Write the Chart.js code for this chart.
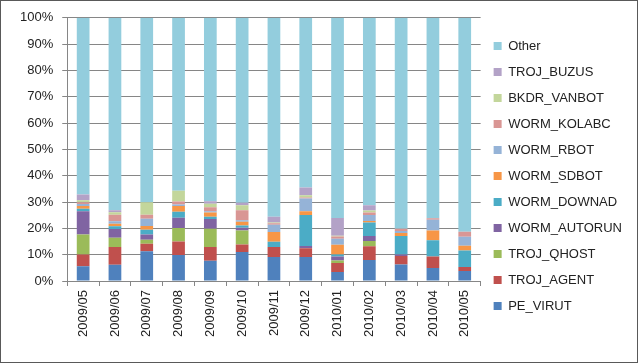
<!DOCTYPE html>
<html>
<head>
<meta charset="utf-8">
<script src="https://cdn.jsdelivr.net/npm/chart.js@4"></script>
<style>
  html, body { margin: 0; padding: 0; background: #fff; }
  #wrap { width: 638px; height: 363px; box-sizing: border-box; border: 1px solid #595959; position: relative; }
  canvas { display: block; }
</style>
</head>
<body>
<div id="wrap"><canvas id="chart" width="636" height="361"></canvas></div>
<script>
const months = ["2009/05", "2009/06", "2009/07", "2009/08", "2009/09", "2009/10", "2009/11",
                "2009/12", "2010/01", "2010/02", "2010/03", "2010/04", "2010/05"]

// share of detections per month, in percent
const peVirut     = [5.6, 6.2, 11.3, 9.9, 7.7, 11.0, 9.1, 9.1, 3.4, 8.0, 6.3, 4.9, 3.8]
const trojAgent   = [4.5, 6.7, 2.9, 5.1, 5.2, 2.9, 3.8, 3.3, 3.4, 5.2, 3.2, 4.4, 1.5]
const trojQhost   = [7.6, 3.5, 1.5, 5.1, 7.0, 5.3, 0, 0, 1.0, 2.0, 0, 0, 0]
const wormAutorun = [8.8, 3.4, 2.0, 3.9, 3.7, 1.0, 0, 0.9, 1.5, 1.9, 0.6, 0, 0]
const wormDownad  = [1.0, 1.0, 1.8, 2.3, 0.8, 0.9, 2.0, 11.8, 0.8, 5.1, 7.0, 6.2, 6.3]
const wormSdbot   = [1.0, 1.0, 1.4, 2.2, 1.6, 1.4, 3.7, 1.4, 3.7, 0.6, 1.1, 3.7, 1.8]
const wormRbot    = [0.8, 0.9, 2.8, 0.6, 0.5, 0.6, 2.8, 4.8, 2.3, 2.3, 0.8, 4.1, 3.4]
const wormKolabc  = [0.6, 2.5, 1.5, 1.1, 1.5, 3.8, 0.5, 0.4, 0.8, 0.9, 0.9, 0.5, 1.9]
const bkdrVanbot  = [0.8, 0.9, 4.7, 4.1, 1.4, 1.9, 0.3, 0.9, 0.3, 0.8, 0, 0, 0]
const trojBuzus   = [2.2, 0.8, 0, 0, 0.9, 0.9, 2.2, 2.9, 6.7, 2.0, 0, 0, 0]
const other       = [67.1, 73.1, 70.1, 65.7, 69.7, 70.3, 75.6, 64.5, 76.1, 71.2, 80.1, 76.2, 81.3]

const yTicks = [0, 10, 20, 30, 40, 50, 60, 70, 80, 90, 100]

const seriesList = [
    {label: "PE_VIRUT", data: peVirut, color: "#4F81BD"},
    {label: "TROJ_AGENT", data: trojAgent, color: "#C0504D"},
    {label: "TROJ_QHOST", data: trojQhost, color: "#9BBB59"},
    {label: "WORM_AUTORUN", data: wormAutorun, color: "#8064A2"},
    {label: "WORM_DOWNAD", data: wormDownad, color: "#4BACC6"},
    {label: "WORM_SDBOT", data: wormSdbot, color: "#F79646"},
    {label: "WORM_RBOT", data: wormRbot, color: "#95B3D7"},
    {label: "WORM_KOLABC", data: wormKolabc, color: "#D99694"},
    {label: "BKDR_VANBOT", data: bkdrVanbot, color: "#C3D69B"},
    {label: "TROJ_BUZUS", data: trojBuzus, color: "#B3A2C7"},
    {label: "Other", data: other, color: "#93CDDD"}
]

const fontFamily = "'Liberation Sans', Arial, sans-serif"

new Chart(document.getElementById("chart"), {
    type: "bar",
    data: {
        labels: months,
        datasets: seriesList.map(s => ({
            label: s.label,
            data: s.data,
            backgroundColor: s.color,
            borderWidth: 0,
            categoryPercentage: 1,
            barPercentage: 0.4
        }))
    },
    options: {
        responsive: false,
        animation: false,
        layout: {padding: {top: 10, left: 10, right: 5, bottom: 21}},
        plugins: {
            tooltip: {enabled: false},
            legend: {
                position: "right",
                reverse: true,
                labels: {
                    boxWidth: 8,
                    boxHeight: 8,
                    padding: 13,
                    color: "#222",
                    font: {family: fontFamily, size: 13}
                }
            }
        },
        scales: {
            x: {
                stacked: true,
                grid: {display: true, drawOnChartArea: false, color: "#868686", tickLength: 5},
                border: {color: "#868686"},
                ticks: {
                    minRotation: 90,
                    maxRotation: 90,
                    padding: 4,
                    color: "#222",
                    font: {family: fontFamily, size: 13}
                }
            },
            y: {
                stacked: true,
                min: 0,
                max: 100,
                afterBuildTicks: axis => { axis.ticks = yTicks.map(v => ({value: v})) },
                grid: {color: "#868686", tickLength: 5},
                border: {color: "#868686"},
                ticks: {
                    padding: 9,
                    color: "#222",
                    font: {family: fontFamily, size: 13},
                    callback: value => value + "%"
                }
            }
        }
    }
})
</script>
</body>
</html>
